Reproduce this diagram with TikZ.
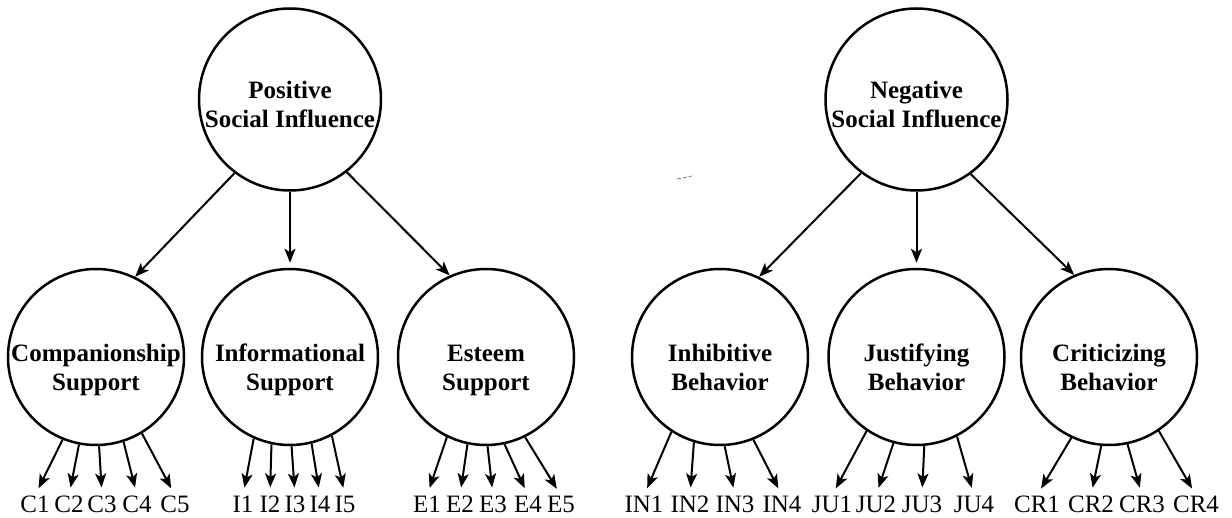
\documentclass[tikz,border=0pt]{standalone}
\usepackage{fontspec}
\setmainfont{Liberation Serif}
\usetikzlibrary{arrows.meta}
\tikzset{
  topc/.style={circle, draw, line width=2.5pt, minimum size=182pt, inner sep=0pt},
  botc/.style={circle, draw, line width=2.5pt, minimum size=176pt, inner sep=0pt},
  ctext/.style={align=center, inner sep=0pt, font=\fontsize{25}{29}\selectfont\bfseries},
  ind/.style={anchor=base, inner sep=0pt, outer sep=0pt, font=\fontsize{25}{25}\selectfont},
  arr/.style={line width=2pt, -{Stealth[length=14pt,width=11pt,inset=3.5pt]}},
  sarr/.style={arr, shorten >=8pt}
}
\begin{document}
\begin{tikzpicture}[x=1pt,y=-1pt]
\useasboundingbox (0,0) rectangle (1232,518);
% top circles
\node[topc] (pos) at (290,99.5) {};
\node[ctext] (post) at (290,104.5) {Positive\\Social Influence};
\node[topc] (neg) at (916.5,99.5) {};
\node[ctext] (negt) at (916.5,104.5) {Negative\\Social Influence};
% bottom circles
\node[botc] (comp) at (96,357) {};
\node[ctext] (compt) at (96,370) {Companionship\\Support};
\node[botc] (inf) at (290,357) {};
\node[ctext] (inft) at (290,370) {Informational\\Support};
\node[botc] (est) at (486,357) {};
\node[ctext] (estt) at (486,370) {Esteem\\Support};
\node[botc] (inh) at (720,357) {};
\node[ctext] (inht) at (720,367) {Inhibitive\\Behavior};
\node[botc] (jus) at (916.5,357) {};
\node[ctext] (just) at (916.5,367) {Justifying\\Behavior};
\node[botc] (cri) at (1109,357) {};
\node[ctext] (crit) at (1109,367) {Criticizing\\Behavior};
% top arrows
\draw[arr] (pos.233) -- (comp.64);
\draw[arr, shorten >=5pt] (pos.south) -- (inf.north);
\draw[arr] (pos.308) -- (est.114);
\draw[arr] (neg.233) -- (inh.64);
\draw[arr, shorten >=5pt] (neg.south) -- (jus.north);
\draw[arr] (neg.306) -- (cri.113);
% indicator labels
\node[ind] (c1) at (35,512) {C1};
\node[ind] (c2) at (69,512) {C2};
\node[ind] (c3) at (102,512) {C3};
\node[ind] (c4) at (137,512) {C4};
\node[ind] (c5) at (175,512) {C5};
\node[ind] (i1) at (243,512) {I1};
\node[ind] (i2) at (270,512) {I2};
\node[ind] (i3) at (295,512) {I3};
\node[ind] (i4) at (320,512) {I4};
\node[ind] (i5) at (345,512) {I5};
\node[ind] (e1) at (427,512) {E1};
\node[ind] (e2) at (460,512) {E2};
\node[ind] (e3) at (493,512) {E3};
\node[ind] (e4) at (528,512) {E4};
\node[ind] (e5) at (561,512) {E5};
\node[ind] (in1) at (644,512) {IN1};
\node[ind] (in2) at (690,512) {IN2};
\node[ind] (in3) at (735,512) {IN3};
\node[ind] (in4) at (782,512) {IN4};
\node[ind] (ju1) at (832,512) {JU1};
\node[ind] (ju2) at (876,512) {JU2};
\node[ind] (ju3) at (922,512) {JU3};
\node[ind] (ju4) at (974,512) {JU4};
\node[ind] (cr1) at (1037,512) {CR1};
\node[ind] (cr2) at (1091,512) {CR2};
\node[ind] (cr3) at (1142,512) {CR3};
\node[ind] (cr4) at (1196,512) {CR4};
% indicator arrows
\draw[sarr] (comp.248) -- (c1.north);
\draw[sarr] (comp.259) -- (c2.north);
\draw[sarr] (comp.272) -- (c3.north);
\draw[sarr] (comp.288) -- (c4.north);
\draw[sarr] (comp.301) -- (c5.north);
\draw[sarr] (inf.246) -- (i1.north);
\draw[sarr] (inf.258) -- (i2.north);
\draw[sarr] (inf.271) -- (i3.north);
\draw[sarr] (inf.284) -- (i4.north);
\draw[sarr] (inf.298) -- (i5.north);
\draw[sarr] (est.244) -- (e1.north);
\draw[sarr] (est.258) -- (e2.north);
\draw[sarr] (est.271) -- (e3.north);
\draw[sarr] (est.282) -- (e4.north);
\draw[sarr] (est.296) -- (e5.north);
\draw[sarr] (inh.237) -- (in1.north);
\draw[sarr] (inh.253) -- (in2.north);
\draw[sarr] (inh.273) -- (in3.north);
\draw[sarr] (inh.292) -- (in4.north);
\draw[sarr] (jus.236) -- (ju1.north);
\draw[sarr] (jus.255) -- (ju2.north);
\draw[sarr] (jus.275) -- (ju3.north);
\draw[sarr] (jus.297) -- (ju4.north);
\draw[sarr] (cri.245) -- (cr1.north);
\draw[sarr] (cri.265) -- (cr2.north);
\draw[sarr] (cri.282) -- (cr3.north);
\draw[sarr] (cri.304) -- (cr4.north);
% scan smudge
\draw[line width=0.8pt, gray, dash pattern=on 4pt off 2pt] (677,179) -- (692,176);
\end{tikzpicture}
\end{document}
